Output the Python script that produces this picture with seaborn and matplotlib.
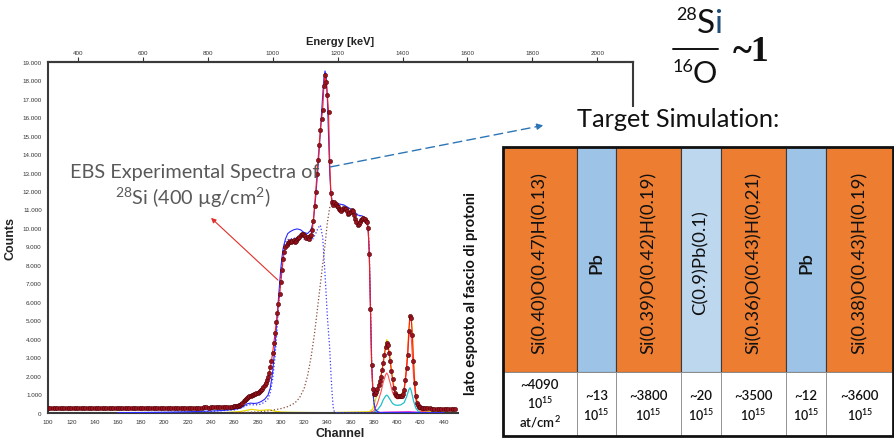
import numpy as np
import pandas as pd
import matplotlib
matplotlib.use("Agg")
import matplotlib.pyplot as plt
import seaborn as sns
from matplotlib.ticker import FuncFormatter
from matplotlib.patches import Rectangle, FancyArrowPatch
from matplotlib.lines import Line2D

# ---------------- data ----------------
flat_channel = list(range(100, 260, 2))
flat_counts = [260, 250, 270, 255, 240, 265, 250, 245, 260, 255,
               250, 240, 260, 270, 250, 245, 255, 260, 240, 250,
               265, 255, 245, 250, 260, 255, 240, 250, 265, 260,
               250, 255, 245, 260, 250, 240, 255, 265, 250, 245,
               260, 250, 245, 255, 240, 250, 260, 255, 245, 250,
               240, 255, 250, 260, 245, 250, 265, 255, 250, 260,
               255, 265, 270, 260, 275, 280, 270, 285, 290, 280,
               295, 300, 290, 305, 310, 300, 315, 320, 330, 325]
rise_channel = list(range(260, 423)) + [424, 426, 428, 430, 432, 434, 436, 438, 440, 442, 444, 446, 448, 450]
rise_counts = [340, 350, 360, 370, 390, 420, 470, 540, 610, 680,
               740, 800, 850, 880, 910, 940, 970, 1000, 1030, 1060,
               1090, 1120, 1160, 1220, 1300, 1390, 1500, 1630, 1780, 1950,
               2150, 2450, 2800, 3250, 3750, 4300, 4900, 5400, 5900, 6400,
               7050, 7700, 8300, 8700, 8950, 9100, 9200, 9250, 9300, 9250,
               9300, 9350, 9250, 9300, 9400, 9450, 9500, 9600, 9650, 9700,
               9600, 9550, 9450, 9500, 9400, 9550, 9600, 9900, 10400, 11200,
               11950, 12900, 13700, 14500, 15300, 15900, 16400, 17700, 18300, 17900,
               17200, 16300, 13600, 11900, 11400, 11250, 11400, 11300, 11200, 11150,
               11050, 10950, 10900, 11000, 11100, 11050, 11000, 10900, 10750, 10800,
               10850, 10950, 10900, 10700, 10500, 10300, 10150, 10200, 10300, 10450,
               10500, 10550, 10500, 10400, 10300, 10000, 8600, 5600, 2600, 1300,
               1000, 1000, 1100, 1300, 1500, 1700, 1950, 2300, 2700, 3150,
               3550, 3800, 3650, 3250, 2800, 2250, 1800, 1350, 1050, 950,
               900, 880, 900, 880, 920, 1000, 1250, 1750, 2400, 3100,
               4400, 5250, 5150, 4200, 2800, 1600, 900, 550, 400, 330,
               290, 270, 260,
               240, 230, 230, 220, 220, 210, 220, 210, 210, 200, 210, 200, 200, 200]
exp_channel = flat_channel + rise_channel
exp_counts = flat_counts + rise_counts

sim_channel = [160, 180, 200, 220, 240, 250, 260, 265, 268, 271, 274, 277, 280, 283, 286, 289, 291, 293, 295,
               297, 298, 299, 300, 301, 302, 304, 306, 308, 311, 314, 317, 320, 323, 326, 328, 330, 332, 334,
               336, 337, 338, 339, 340, 341, 342, 343, 344, 346, 350, 354, 358, 362, 366, 370, 373, 375, 376,
               377, 378, 379, 380, 381, 383, 386, 440]
sim_counts = [0, 10, 25, 50, 90, 120, 180, 250, 350, 480, 520, 500, 520, 600, 720, 950, 1350, 2200, 3600,
              5300, 6200, 7000, 7800, 8400, 8900, 9400, 9700, 9800, 9900, 9950, 9900, 9750, 9700, 9900, 10400,
              11700, 13300, 15200, 17200, 18100, 18500, 18200, 17000, 15000, 13000, 11900, 11500, 11400, 11300,
              11250, 11100, 10950, 10700, 10650, 10500, 10000, 8700, 5800, 2900, 1300, 550, 200, 50, 0, 0]

layer1_channel = [160, 200, 240, 260, 266, 270, 274, 278, 282, 286, 289, 291, 293, 295, 297, 299, 301, 303,
                  305, 308, 312, 316, 320, 324, 327, 330, 332, 334, 336, 338, 340, 342, 343, 344, 345, 346, 348, 440]
layer1_counts = [0, 20, 70, 150, 250, 380, 440, 420, 450, 560, 750, 1100, 1800, 3000, 4700, 6600, 8200, 9100,
                 9350, 9400, 9450, 9500, 9400, 9300, 9350, 9700, 10000, 10150, 9500, 7500, 5200, 3500, 2200,
                 1100, 300, 50, 0, 0]

layer2_channel = [260, 280, 290, 300, 306, 312, 316, 320, 323, 326, 329, 332, 335, 338, 340, 342, 344, 348,
                  352, 356, 360, 364, 368, 372, 374, 375, 376, 377, 378, 379, 380, 382, 385, 440]
layer2_counts = [0, 40, 100, 220, 330, 520, 800, 1300, 2000, 3000, 4300, 5900, 7500, 9100, 10300, 11100,
                 11350, 11300, 11200, 11150, 11000, 10800, 10650, 10550, 10400, 10100, 8800, 6000, 3000,
                 1300, 500, 100, 0, 0]

cyan_channel = [376, 380, 383, 386, 388, 390, 391, 392, 394, 396, 398, 400, 403, 406, 408, 410, 411, 412,
                414, 416, 418, 420, 430]
cyan_counts = [0, 30, 150, 400, 700, 900, 950, 900, 700, 500, 420, 400, 420, 550, 850, 1250, 1350, 1200,
               650, 250, 80, 20, 0]

pink_channel = [376, 380, 383, 386, 388, 390, 391, 392, 394, 396, 398, 400, 403, 406, 408, 409, 410, 411,
                412, 413, 414, 416, 418, 420, 430]
pink_counts = [0, 100, 500, 1100, 1650, 2050, 2150, 2050, 1600, 1100, 850, 750, 780, 1300, 2300, 3200,
               4100, 4450, 4100, 3100, 2000, 700, 250, 80, 0]

yellow_channel = [250, 265, 275, 282, 290, 295, 300, 310, 340, 360, 376, 379, 381, 383, 385, 387, 389, 390,
                  391, 392, 394, 396, 398, 400, 402, 404, 406, 407, 408, 409, 410, 411, 412, 413, 414, 415,
                  416, 418, 420, 425, 440]
yellow_counts = [0, 60, 180, 120, 160, 80, 40, 20, 0, 30, 50, 200, 600, 1100, 1600, 2300, 3100, 3600, 3950,
                 3800, 2900, 1900, 1150, 1000, 980, 1000, 1300, 1800, 2500, 3400, 4600, 5300, 5250, 4400,
                 3000, 1800, 1000, 350, 150, 60, 40]

magenta_channel = [380, 390, 400, 410, 420, 440]
magenta_counts = [0, 30, 40, 50, 20, 0]

x_ticks = list(range(100, 441, 20))
y_ticks = list(range(0, 19001, 1000))
energy_ticks = list(range(400, 2001, 200))

layer_formulas = ["Si(0.40)O(0.47)H(0.13)", "Pb", "Si(0.39)O(0.42)H(0.19)", "C(0.9)Pb(0.1)",
                  "Si(0.36)O(0.43)H(0,21)", "Pb", "Si(0.38)O(0.43)H(0.19)"]
layer_thickness = ["~4090", "~13", "~3800", "~20", "~3500", "~12", "~3600"]
thickness_unit = "10$^{15}$"
first_unit = "at/cm$^{2}$"
layer_kind = ["SiOH", "Pb", "SiOH", "CPb", "SiOH", "Pb", "SiOH"]

# ---------------- layout / style ----------------
W, H = 895, 439
def fx(p):
    return p / W
def fy(p):
    return 1 - p / H

sns.set_style("white")
plt.rcParams['font.family'] = ['Liberation Sans', 'DejaVu Sans']
plt.rcParams['mathtext.default'] = 'regular'

fig = plt.figure(figsize=(W / 100, H / 100), dpi=100)
fig.patch.set_facecolor("white")

ax = fig.add_axes([fx(48), fy(413.7), (633 - 48) / W, (413.7 - 62.7) / H])
ax.set_facecolor("white")

def series(ch, ct, color, lw, ls="-", z=2):
    df = pd.DataFrame({"Channel": ch, "Counts": ct})
    sns.lineplot(data=df, x="Channel", y="Counts", ax=ax, color=color, lw=lw,
                 linestyle=ls, estimator=None, sort=False, zorder=z)

series(yellow_channel, yellow_counts, "#e8d800", 0.9, z=2)
series(magenta_channel, magenta_counts, "#e000e0", 0.8, z=2)
series(cyan_channel, cyan_counts, "#20c0c8", 0.9, z=2)
series(pink_channel, pink_counts, "#ff5050", 0.8, z=2)
series(layer2_channel, layer2_counts, "#8a4a3a", 0.9, ls=":", z=3)
series(layer1_channel, layer1_counts, "#3a3aff", 0.9, ls=":", z=3)
series(sim_channel, sim_counts, "#2a2aff", 0.8, z=3)
series(exp_channel, exp_counts, "#ff1a1a", 0.8, z=4)
exp_df = pd.DataFrame({"Channel": exp_channel, "Counts": exp_counts})
sns.scatterplot(data=exp_df, x="Channel", y="Counts", ax=ax, s=10, color="#9b111e",
                edgecolor="#3a0000", linewidth=0.3, zorder=5)

ax.set_xlim(100, 100 + 585 / 1.164)
ax.set_ylim(0, 19000)
ax.set_xticks(x_ticks)
ax.set_yticks(y_ticks)
ax.yaxis.set_major_formatter(FuncFormatter(
    lambda v, p: "0" if v == 0 else f"{int(v):,}".replace(",", ".")))
ax.tick_params(axis="both", direction="out", length=3, width=0.8, labelsize=4.5,
               colors="#333333", pad=1.5)
for s in ["left", "right", "top", "bottom"]:
    ax.spines[s].set_visible(True)
    ax.spines[s].set_color("#3a3a3a")
    ax.spines[s].set_linewidth(1.5)
ax.set_xlabel("Channel", fontsize=9, fontweight="bold", color="#222222", labelpad=2)
ax.set_ylabel("Counts", fontsize=9, fontweight="bold", color="#222222", labelpad=4)

def c2e(c):
    return 307.55 + 3.587 * (np.asarray(c, dtype=float) - 100)
def e2c(e):
    return 100 + (np.asarray(e, dtype=float) - 307.55) / 3.587

secax = ax.secondary_xaxis("top", functions=(c2e, e2c))
secax.set_xticks(energy_ticks)
secax.tick_params(axis="x", direction="out", length=3.5, width=0.8, labelsize=4.5,
                  colors="#333333", pad=1.5)
secax.spines["top"].set_color("#3a3a3a")
secax.spines["top"].set_linewidth(1.5)
secax.set_xlabel("Energy [keV]", fontsize=8, fontweight="bold", color="#222222", labelpad=4)

# white slide area covering the right part of the spectrum frame
fig.add_artist(Rectangle((fx(459), 0), 1 - fx(459), fy(108), transform=fig.transFigure,
                         facecolor="white", edgecolor="none", zorder=2))

# ---------------- table ----------------
col_w = [74, 39.3, 65, 39.7, 65.3, 40, 67.3]
lefts = list(np.cumsum([0] + col_w[:-1]))
centers = [l + w / 2 for l, w in zip(lefts, col_w)]
tot_w = sum(col_w)
TB = 436.7                      # table bottom, in pixels from the top
row_split = TB - 373.3
tot_h = TB - 148.3
kind_color = {"SiOH": "#ED7D31", "Pb": "#9DC3E6", "CPb": "#BDD7EE"}

ax_t = fig.add_axes([fx(502.7), fy(TB), tot_w / W, tot_h / H])
ax_t.set_zorder(3)
ax_t.set_xlim(0, tot_w)
ax_t.set_ylim(0, tot_h)
ax_t.axis("off")
ax_t.bar(lefts, tot_h - row_split, width=col_w, bottom=row_split, align="edge",
         color=[kind_color[k] for k in layer_kind], edgecolor="#3a3a3a", linewidth=0.8)
ax_t.bar(lefts, row_split, width=col_w, bottom=0, align="edge", color="white",
         edgecolor="#8a8a8a", linewidth=0.6)
ax_t.add_patch(Rectangle((0, 0), 1, 1, transform=ax_t.transAxes, fill=False,
                         edgecolor="#111111", linewidth=2, clip_on=False))
for cx, f in zip(centers, layer_formulas):
    ax_t.text(cx, TB - 263, f, rotation=90, ha="center", va="center",
              fontsize=13.3, family="Lato", color="#111111",
              fontweight="semibold" if f == "Pb" else "normal")
cell_kw = dict(ha="center", va="center", family="Lato", fontweight="semibold", color="#111111")
for i, (cx, t) in enumerate(zip(centers, layer_thickness)):
    if i == 0:
        ax_t.text(cx, TB - 385, t, fontsize=9.5, **cell_kw)
        ax_t.text(cx, TB - 403, thickness_unit, fontsize=9, **cell_kw)
        ax_t.text(cx, TB - 422, first_unit, fontsize=9.5, **cell_kw)
    else:
        ax_t.text(cx, TB - 396, t, fontsize=9.5, **cell_kw)
        ax_t.text(cx, TB - 415, thickness_unit, fontsize=9, **cell_kw)

# ---------------- slide texts ----------------
fig.text(fx(471), fy(293.5), "lato esposto al fascio di protoni", rotation=90, ha="center",
         va="center", fontsize=10.5, fontweight="bold", family="Lato", color="#111111", zorder=5)
fig.text(fx(577), fy(127), "Target Simulation:", ha="left", va="baseline", fontsize=18.3,
         family="Lato", color="#111111", zorder=5)

fig.text(fx(697), fy(33), "S", ha="left", va="baseline", fontsize=24, family="Lato",
         color="#111111", zorder=5)
fig.text(fx(714), fy(33), "i", ha="left", va="baseline", fontsize=24, family="Lato",
         color="#1F4E79", zorder=5)
fig.text(fx(697), fy(20), "28", ha="right", va="baseline", fontsize=13, family="Lato",
         color="#111111", zorder=5)
fig.add_artist(Line2D([fx(673), fx(718)], [fy(49.5), fy(49.5)], color="#111111", lw=1.4,
                      transform=fig.transFigure, zorder=5))
fig.text(fx(693), fy(72), "16", ha="right", va="baseline", fontsize=13, family="Lato",
         color="#111111", zorder=5)
fig.text(fx(693), fy(83), "O", ha="left", va="baseline", fontsize=22, family="Lato",
         color="#111111", zorder=5)
fig.text(fx(733), fy(61), "~1", ha="left", va="baseline", fontsize=26, fontweight="bold",
         family="Liberation Serif", color="#111111", zorder=5)

fig.text(fx(195), fy(173), "EBS Experimental Spectra of", ha="center", va="center",
         fontsize=14.3, family="Lato", color="#595959", zorder=5)
fig.text(fx(193), fy(198), "$^{28}$Si (400 µg/cm$^{2}$)", ha="center", va="center",
         fontsize=14.3, family="Lato", color="#595959", zorder=5)

# arrows
fig.add_artist(FancyArrowPatch((fx(280), fy(283)), (fx(209), fy(217)), transform=fig.transFigure,
                               arrowstyle="-|>", mutation_scale=7, color="#e0302a", lw=0.8, zorder=6))
fig.add_artist(Line2D([fx(330), fx(538)], [fy(168), fy(127.4)], color="#2e75b6", lw=1.0,
                      linestyle=(0, (7, 3)), transform=fig.transFigure, zorder=6))
fig.add_artist(FancyArrowPatch((fx(535), fy(128)), (fx(546), fy(125.8)), transform=fig.transFigure,
                               arrowstyle="-|>", mutation_scale=9, color="#2e75b6", lw=1.0, zorder=6))

fig.savefig("out.png", dpi=100)
